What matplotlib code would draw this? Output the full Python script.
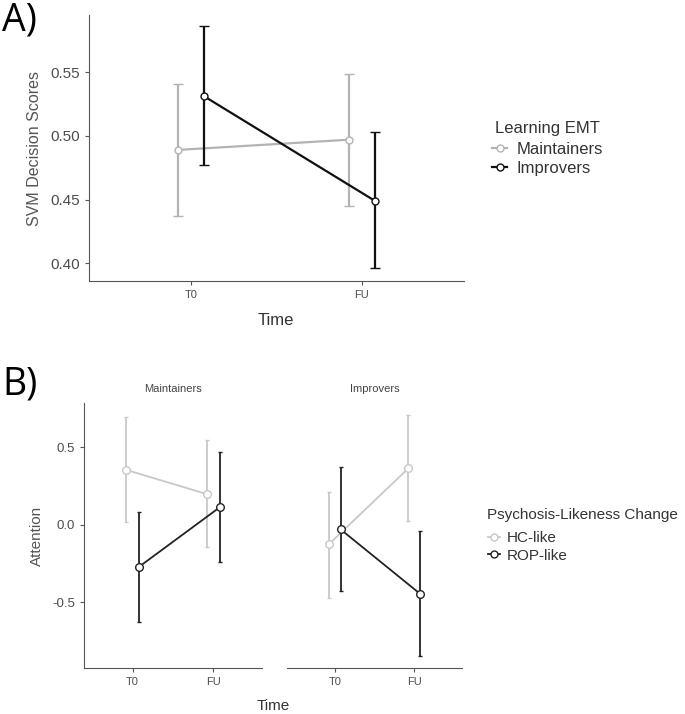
import numpy as np
import matplotlib.pyplot as plt
from matplotlib.lines import Line2D

plt.rcParams['font.family'] = ['Liberation Sans', 'DejaVu Sans']

# Panel A: SVM Decision Scores (mean, lower CI, upper CI)
times = ['T0', 'FU']
groups_a = ['Maintainers', 'Improvers']
svm_mean = {'Maintainers': [0.489, 0.497], 'Improvers': [0.531, 0.449]}
svm_low = {'Maintainers': [0.437, 0.445], 'Improvers': [0.477, 0.396]}
svm_high = {'Maintainers': [0.541, 0.549], 'Improvers': [0.586, 0.503]}

# Panel B: Attention per EMT group and psychosis-likeness change
facets = ['Maintainers', 'Improvers']
groups_b = ['HC-like', 'ROP-like']
att_mean = {
    'Maintainers': {'HC-like': [0.354, 0.197], 'ROP-like': [-0.273, 0.112]},
    'Improvers': {'HC-like': [-0.126, 0.364], 'ROP-like': [-0.030, -0.446]},
}
att_low = {
    'Maintainers': {'HC-like': [0.017, -0.140], 'ROP-like': [-0.628, -0.237]},
    'Improvers': {'HC-like': [-0.470, 0.024], 'ROP-like': [-0.427, -0.846]},
}
att_high = {
    'Maintainers': {'HC-like': [0.697, 0.547], 'ROP-like': [0.082, 0.472]},
    'Improvers': {'HC-like': [0.214, 0.711], 'ROP-like': [0.375, -0.040]},
}

W, H = 685, 714
fig = plt.figure(figsize=(W / 100, H / 100), dpi=100)

def box(x0, x1, ytop, ybot):
    return [x0 / W, 1 - ybot / H, (x1 - x0) / W, (ybot - ytop) / H]

axis_col = '#555555'
tick_col = '#4d4d4d'

def style_axis(ax, ysize):
    for s in ['top', 'right']:
        ax.spines[s].set_visible(False)
    for s in ['left', 'bottom']:
        ax.spines[s].set_color(axis_col)
        ax.spines[s].set_linewidth(0.8)
    ax.tick_params(axis='both', colors=axis_col, length=3, width=0.8)
    ax.tick_params(axis='y', labelsize=ysize, labelcolor=tick_col)
    ax.tick_params(axis='x', labelsize=8, labelcolor=tick_col)
    ax.set_xlim(0.4, 2.6)
    ax.set_xticks([1, 2])
    ax.set_xticklabels(times)

def legend_block(handles, labels, title, x_title, y_title, x_leg, y_leg, size, hl, tp):
    # titel og legende hver for sig, så afstanden passer
    fig.text(x_title / W, 1 - y_title / H, title, ha='left', va='center',
             fontsize=size, color='#333333')
    leg = fig.legend(handles, labels, loc='upper left',
                     bbox_to_anchor=(x_leg / W, 1 - y_leg / H), frameon=False,
                     fontsize=size, handlelength=hl, handletextpad=tp,
                     labelspacing=0.25, borderaxespad=0, borderpad=0)
    for t in leg.get_texts():
        t.set_color('#333333')
    return leg

x = np.array([1, 2])

# ---- Panel A ----
axA = fig.add_axes(box(89, 464, 15, 281))
colors_a = {'Maintainers': '#b3b3b3', 'Improvers': '#111111'}
dodge_a = {'Maintainers': -0.077, 'Improvers': 0.077}
for g in groups_a:
    xs = x + dodge_a[g]
    m = np.array(svm_mean[g])
    err = [m - np.array(svm_low[g]), np.array(svm_high[g]) - m]
    axA.errorbar(xs, m, yerr=err, color=colors_a[g], lw=1.6, capsize=3.5,
                 capthick=1.6, marker='o', ms=5, mfc='white', mec=colors_a[g],
                 mew=1.0, zorder=3 if g == 'Improvers' else 2)
axA.set_ylim(0.386, 0.595)
axA.set_yticks([0.40, 0.45, 0.50, 0.55])
axA.set_yticklabels(['0.40', '0.45', '0.50', '0.55'])
style_axis(axA, 11)
axA.set_ylabel('SVM Decision Scores', fontsize=11.5, color='#555555', labelpad=6)
fig.text(276 / W, 1 - 321 / H, 'Time', ha='center', va='center', fontsize=12, color='#333333')
fig.text(2 / W, 1 - 20 / H, 'A)', ha='left', va='center', fontsize=27,
         family=['Open Sans', 'DejaVu Sans'])

handles_a = [Line2D([0], [0], color=colors_a[g], lw=1.6, marker='o', ms=5,
                    mfc='white', mec=colors_a[g]) for g in groups_a]
legend_block(handles_a, groups_a, 'Learning EMT', 495, 129, 492, 142, 12, 0.9, 0.6)

# ---- Panel B ----
colors_b = {'HC-like': '#c8c8c8', 'ROP-like': '#222222'}
dodge_b = {'HC-like': -0.075, 'ROP-like': 0.075}
ax_bounds = {'Maintainers': (84, 262), 'Improvers': (287, 462)}
axes_b = []
for f in facets:
    x0, x1 = ax_bounds[f]
    ax = fig.add_axes(box(x0, x1, 403, 668))
    for g in groups_b:
        xs = x + dodge_b[g]
        m = np.array(att_mean[f][g])
        err = [m - np.array(att_low[f][g]), np.array(att_high[f][g]) - m]
        ax.errorbar(xs, m, yerr=err, color=colors_b[g], lw=1.3, capsize=1.5,
                    capthick=1.3, marker='o', ms=5.5, mfc='white', mec=colors_b[g],
                    mew=1.0, zorder=3 if g == 'ROP-like' else 2)
    ax.set_ylim(-0.924, 0.786)
    style_axis(ax, 9.5)
    ax.set_title(f, fontsize=8, color='#444444', pad=8)
    axes_b.append(ax)

axes_b[0].set_yticks([-0.5, 0.0, 0.5])
axes_b[0].set_yticklabels(['-0.5', '0.0', '0.5'])
axes_b[0].set_ylabel('Attention', fontsize=11, color='#555555', labelpad=6)
axes_b[1].set_yticks([])
axes_b[1].spines['left'].set_visible(False)

fig.text(273 / W, 1 - 706 / H, 'Time', ha='center', va='center', fontsize=11, color='#333333')
fig.text(2 / W, 1 - 385 / H, 'B)', ha='left', va='center', fontsize=27,
         family=['Open Sans', 'DejaVu Sans'])

handles_b = [Line2D([0], [0], color=colors_b[g], lw=1.3, marker='o', ms=5,
                    mfc='white', mec=colors_b[g]) for g in groups_b]
legend_block(handles_b, groups_b, 'Psychosis-Likeness Change', 487, 515, 488, 531, 11, 0.8, 0.45)

fig.savefig('out.png', dpi=100, facecolor='white')
